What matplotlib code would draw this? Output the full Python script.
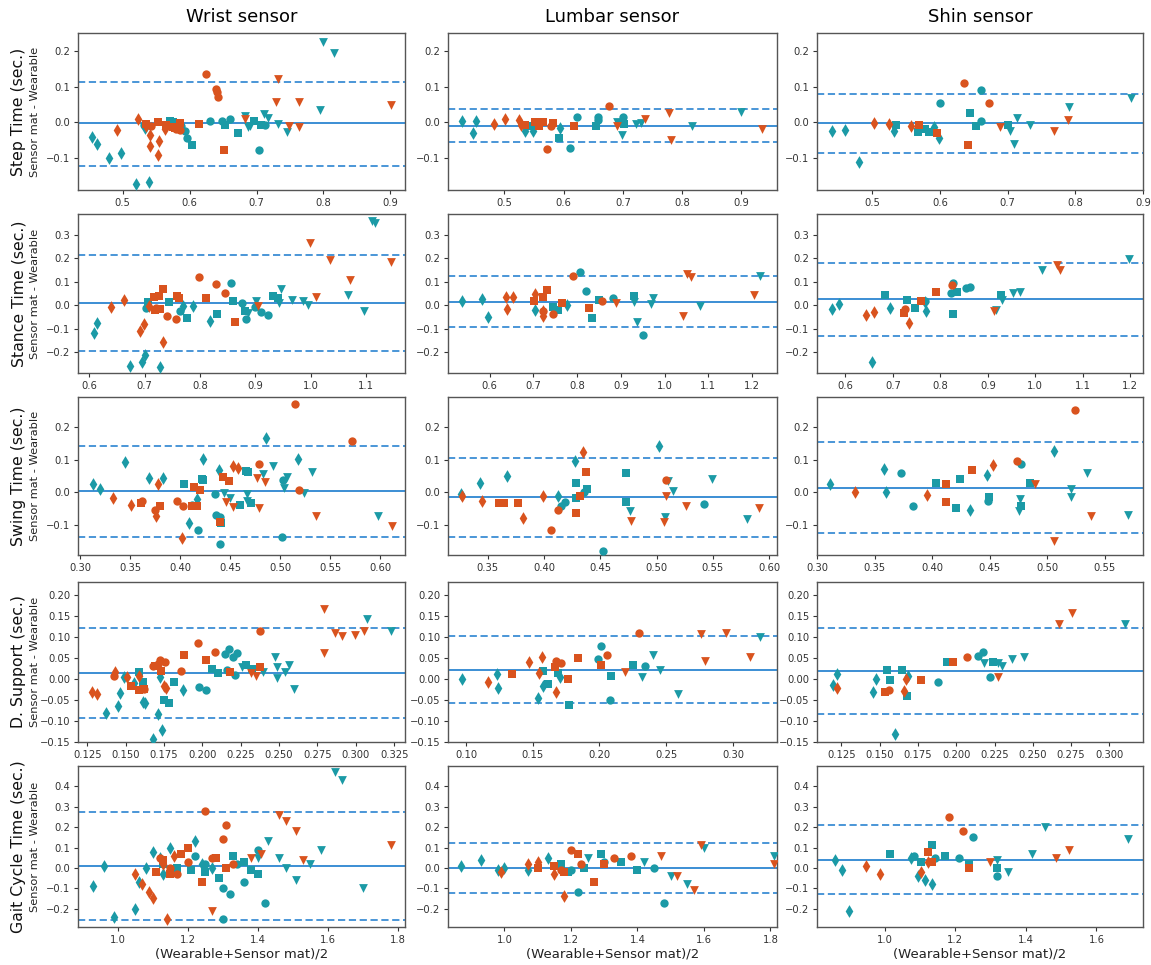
import matplotlib.pyplot as plt

# kinds: lowercase = teal, uppercase = orange; d diamond, o circle, s square, v triangle
col_titles = ['Wrist sensor', 'Lumbar sensor', 'Shin sensor']
row_titles = ['Step Time (sec.)', 'Stance Time (sec.)', 'Swing Time (sec.)',
              'D. Support (sec.)', 'Gait Cycle Time (sec.)']
xlabel = '(Wearable+Sensor mat)/2'

# ---------------- Step time ----------------
step_wrist_x = [0.454, 0.461, 0.480, 0.4975, 0.520, 0.5385, 0.5335,
                0.4915, 0.523, 0.540, 0.540, 0.554, 0.553, 0.5625, 0.535,
                0.534, 0.5525, 0.565, 0.575, 0.585, 0.614, 0.651, 0.5775,
                0.5425, 0.585, 0.624, 0.639, 0.641, 0.6425, 0.580,
                0.6825, 0.7315, 0.729, 0.7635, 0.749, 0.7635, 0.901,
                0.571, 0.6035, 0.6535, 0.6725, 0.6965, 0.7065, 0.575,
                0.5875, 0.5925, 0.596, 0.630, 0.649, 0.660, 0.704, 0.7125, 0.5315,
                0.799, 0.8165, 0.795, 0.6825, 0.690, 0.711, 0.7165, 0.7325, 0.745, 0.6875]
step_wrist_y = [-0.041, -0.061, -0.100, -0.086, -0.174, -0.168, -0.016,
                -0.023, 0.010, -0.035, -0.066, -0.054, -0.091, -0.019, -0.011,
                -0.005, 0.000, -0.009, -0.013, -0.002, -0.005, -0.079, -0.016,
                -0.011, -0.023, 0.135, 0.094, 0.085, 0.070, -0.019,
                0.008, 0.120, 0.056, 0.056, -0.011, -0.013, 0.049,
                0.003, -0.063, -0.009, -0.030, 0.003, -0.009, 0.000,
                -0.011, -0.025, -0.044, 0.003, 0.003, 0.009, -0.079, -0.009, -0.009,
                0.225, 0.195, 0.033, 0.017, -0.011, 0.022, 0.012, -0.004, -0.028, -0.013]
step_wrist_k = 'd' * 7 + 'D' * 8 + 'S' * 8 + 'O' * 7 + 'V' * 7 + 's' * 7 + 'o' * 9 + 'v' * 10

step_lumbar_x = [0.4285, 0.4476, 0.452, 0.5355, 0.548, 0.5946,
                 0.482, 0.5017, 0.524, 0.528,
                 0.535, 0.551, 0.565, 0.582, 0.617, 0.559,
                 0.572, 0.579, 0.676,
                 0.690, 0.738, 0.778, 0.782, 0.934,
                 0.545, 0.593, 0.655, 0.702, 0.5535,
                 0.622, 0.610, 0.658, 0.700, 0.658,
                 0.690, 0.699, 0.7225, 0.731, 0.817, 0.899]
step_lumbar_y = [0.002, -0.031, 0.002, -0.024, -0.026, -0.015,
                 -0.005, 0.009, 0.005, -0.007,
                 -0.007, 0.000, 0.000, -0.003, -0.012, -0.012,
                 -0.075, -0.012, 0.046,
                 -0.012, 0.009, 0.025, -0.050, -0.019,
                 -0.012, -0.043, -0.010, -0.006, -0.007,
                 0.014, -0.073, 0.014, 0.014, 0.005,
                 0.000, -0.036, -0.006, -0.003, -0.012, 0.028]
step_lumbar_k = 'd' * 6 + 'D' * 4 + 'S' * 6 + 'O' * 3 + 'V' * 5 + 's' * 5 + 'o' * 5 + 'v' * 6

step_shin_x = [0.4396, 0.459, 0.480, 0.532, 0.5916, 0.599,
               0.5025, 0.525, 0.557,
               0.569, 0.5955, 0.641,
               0.6347, 0.672,
               0.688, 0.769, 0.7886,
               0.5346, 0.568, 0.583, 0.6436, 0.6535, 0.7005, 0.578,
               0.6005, 0.661, 0.661,
               0.703, 0.7094, 0.7144, 0.7327, 0.7906, 0.882]
step_shin_y = [-0.026, -0.021, -0.111, -0.026, -0.014, -0.045,
               -0.002, -0.005, -0.011,
               -0.009, -0.029, -0.064,
               0.110, 0.053,
               -0.013, -0.024, 0.006,
               -0.007, -0.028, -0.028, 0.027, -0.010, -0.007, -0.018,
               0.055, 0.089, 0.003,
               -0.026, -0.061, 0.012, -0.009, 0.043, 0.067]
step_shin_k = 'd' * 6 + 'D' * 3 + 'S' * 3 + 'O' * 2 + 'V' * 3 + 's' * 7 + 'o' * 3 + 'v' * 6

# ---------------- Stance time ----------------
stance_wrist_x = [0.6085, 0.6145, 0.6745, 0.695, 0.701, 0.7285, 0.787, 0.818, 0.769,
                  0.6397, 0.6625, 0.691, 0.6985, 0.734, 0.7075,
                  0.7176, 0.7254, 0.734, 0.7284, 0.758, 0.763, 0.811, 0.863, 0.719,
                  0.7992, 0.8285, 0.8453, 0.7404, 0.757, 0.720,
                  0.998, 1.034, 1.070, 1.145, 1.010, 0.904,
                  0.7065, 0.744, 0.776, 0.8315, 0.859, 0.881, 0.932, 0.941,
                  0.7033, 0.7644, 0.856, 0.875, 0.884, 0.8993, 0.9095, 0.922,
                  0.9454, 0.9664, 0.986, 0.995, 0.9005, 0.943, 1.067, 1.096, 1.111, 1.115, 0.887]
stance_wrist_y = [-0.119, -0.076, -0.259, -0.244, -0.213, -0.266, -0.004, -0.069, -0.004,
                  -0.009, 0.022, -0.112, -0.080, -0.158, -0.004,
                  0.034, 0.039, 0.070, -0.016, 0.039, 0.029, 0.032, -0.073, -0.019,
                  0.121, 0.089, 0.053, -0.047, -0.057, -0.011,
                  0.264, 0.193, 0.106, 0.185, 0.034, -0.004,
                  0.013, 0.013, -0.055, -0.036, 0.017, -0.026, 0.039, 0.032,
                  -0.011, -0.026, 0.096, 0.010, -0.059, -0.009, -0.029, -0.040,
                  0.068, 0.024, 0.020, 0.000, 0.020, 0.010, 0.042, -0.026, 0.362, 0.352, -0.033]
stance_wrist_k = 'd' * 9 + 'D' * 6 + 'S' * 9 + 'O' * 6 + 'V' * 6 + 's' * 8 + 'o' * 8 + 'v' * 11

stance_lumbar_x = [0.5364, 0.582, 0.597, 0.704, 0.778,
                   0.6376, 0.653, 0.639, 0.704, 0.723, 0.721,
                   0.702, 0.723, 0.732, 0.765, 0.828,
                   0.7457, 0.790, 0.856, 0.723,
                   0.890, 1.0516, 1.0615, 1.0425, 1.2038,
                   0.7457, 0.757, 0.833, 0.851, 0.930,
                   0.8065, 0.8195, 0.881, 0.951,
                   0.930, 0.936, 0.974, 0.970, 1.0805, 1.2175]
stance_lumbar_y = [0.019, 0.026, -0.050, -0.021, 0.000,
                   0.036, 0.033, -0.017, 0.047, -0.046, -0.024,
                   0.019, 0.033, 0.066, 0.011, -0.013,
                   -0.039, 0.126, 0.019, -0.024,
                   0.011, 0.133, 0.121, -0.046, 0.043,
                   -0.007, -0.021, -0.056, 0.021, 0.040,
                   0.140, 0.061, 0.030, -0.127,
                   0.014, -0.070, 0.030, 0.004, -0.003, 0.126]
stance_lumbar_k = 'd' * 5 + 'D' * 6 + 'S' * 5 + 'O' * 4 + 'V' * 5 + 's' * 5 + 'o' * 4 + 'v' * 6

stance_shin_x = [0.572, 0.586, 0.656, 0.693, 0.7705, 0.768,
                 0.644, 0.661, 0.733,
                 0.723, 0.760, 0.7916,
                 0.726, 0.8246,
                 0.912, 1.0456, 1.0526,
                 0.684, 0.730, 0.746, 0.826, 0.834, 0.928,
                 0.8267, 0.8225, 0.8547, 0.8618, 0.767,
                 0.917, 0.930, 0.952, 0.967, 1.014, 1.1965]
stance_shin_y = [-0.017, 0.004, -0.241, -0.010, -0.025, 0.014,
                 -0.042, -0.029, -0.075,
                 -0.032, 0.016, 0.058,
                 -0.017, 0.087,
                 -0.025, 0.170, 0.149,
                 0.043, 0.023, -0.010, -0.039, 0.058, 0.043,
                 0.094, 0.052, 0.074, 0.076, 0.019,
                 -0.020, 0.023, 0.052, 0.055, 0.149, 0.199]
stance_shin_k = 'd' * 6 + 'D' * 3 + 'S' * 3 + 'O' * 2 + 'V' * 3 + 's' * 6 + 'o' * 5 + 'v' * 6

# ---------------- Swing time ----------------
swing_wrist_x = [0.3133, 0.320, 0.345, 0.369, 0.3827, 0.409, 0.4167, 0.4227, 0.439, 0.486, 0.5177,
                 0.3327, 0.3507, 0.3783, 0.3757, 0.4017, 0.4533, 0.4577,
                 0.3607, 0.380, 0.4143, 0.4167, 0.420, 0.4427, 0.449, 0.440, 0.4117,
                 0.3973, 0.4033, 0.3617, 0.375, 0.479, 0.515, 0.5717, 0.519,
                 0.446, 0.4527, 0.4773, 0.485, 0.4793, 0.536, 0.6117,
                 0.404, 0.4217, 0.4233, 0.441, 0.460, 0.466, 0.4683, 0.4707,
                 0.4117, 0.4183, 0.435, 0.436, 0.440, 0.440, 0.5017, 0.5033,
                 0.4443, 0.450, 0.4673, 0.4827, 0.4927, 0.5067, 0.504, 0.5317, 0.524, 0.5983, 0.4667]
swing_wrist_y = [0.025, 0.011, 0.094, 0.045, 0.045, -0.093, -0.019, 0.102, 0.069, 0.165, 0.102,
                 -0.017, -0.037, 0.025, -0.071, -0.138, 0.081, 0.074,
                 -0.032, -0.040, 0.018, -0.042, 0.008, 0.048, 0.035, -0.090, -0.040,
                 -0.027, -0.040, -0.027, -0.053, 0.087, 0.268, 0.155, 0.006,
                 -0.030, -0.045, 0.045, 0.031, -0.047, -0.073, -0.103,
                 0.026, 0.040, 0.038, -0.093, -0.039, 0.066, 0.061, -0.032,
                 -0.037, -0.113, -0.004, -0.068, -0.075, -0.156, -0.135, 0.038,
                 -0.002, -0.017, -0.005, 0.057, 0.079, 0.048, 0.013, 0.061, -0.002, -0.073, -0.027]
swing_wrist_k = 'd' * 11 + 'D' * 7 + 'S' * 9 + 'O' * 8 + 'V' * 7 + 's' * 8 + 'o' * 8 + 'v' * 11

swing_lumbar_x = [0.3263, 0.3432, 0.3669, 0.4122, 0.4276, 0.502,
                  0.3272, 0.3447, 0.3811, 0.3989, 0.4344,
                  0.3595, 0.3639, 0.3767, 0.4279, 0.4321, 0.4374, 0.3619,
                  0.4122, 0.4063, 0.5079,
                  0.4768, 0.5061, 0.5085, 0.5263, 0.5909,
                  0.4285, 0.4279, 0.438, 0.473, 0.473,
                  0.4152, 0.4187, 0.435, 0.4522, 0.5417,
                  0.4759, 0.510, 0.5076, 0.5144, 0.5494, 0.5802]
swing_lumbar_y = [-0.005, 0.030, 0.051, -0.010, 0.096, 0.141,
                  -0.010, -0.025, -0.078, -0.012, 0.123,
                  -0.032, -0.032, -0.032, -0.061, -0.012, 0.063, -0.032,
                  -0.053, -0.113, 0.038,
                  -0.088, -0.091, -0.010, -0.040, -0.047,
                  0.030, -0.017, 0.012, -0.030, 0.058,
                  -0.040, -0.030, 0.000, -0.177, -0.035,
                  -0.056, 0.035, -0.076, 0.005, 0.040, -0.081]
swing_lumbar_k = 'd' * 6 + 'D' * 5 + 'S' * 7 + 'O' * 3 + 'V' * 5 + 's' * 5 + 'o' * 5 + 'v' * 6

swing_shin_x = [0.3117, 0.3581, 0.3596, 0.4326, 0.448, 0.5057,
                0.3332, 0.3955, 0.4529,
                0.4117, 0.4123, 0.4346,
                0.4738, 0.5239,
                0.4891, 0.5057, 0.5378,
                0.4036, 0.4204, 0.4239, 0.4494, 0.4775, 0.4848,
                0.3833, 0.3726, 0.4486, 0.477,
                0.4761, 0.4755, 0.5201, 0.5201, 0.5346, 0.5697]
swing_shin_y = [0.027, 0.070, 0.002, -0.052, 0.053, 0.127,
                0.000, -0.007, 0.083,
                -0.030, 0.025, 0.067,
                0.097, 0.250,
                0.025, -0.147, -0.070,
                0.030, -0.048, 0.040, -0.013, -0.040, 0.030,
                -0.040, 0.060, -0.027, 0.087,
                -0.020, -0.057, 0.010, -0.015, 0.060, -0.068]
swing_shin_k = 'd' * 6 + 'D' * 3 + 'S' * 3 + 'O' * 2 + 'V' * 3 + 's' * 6 + 'o' * 4 + 'v' * 6

# ---------------- Double support ----------------
dsup_wrist_x = [0.1280, 0.1317, 0.1432, 0.1510, 0.1586, 0.1749, 0.1760,
                0.1537, 0.1587, 0.1689, 0.1733, 0.1880, 0.2025, 0.2180, 0.2373, 0.1617,
                0.1425, 0.1619, 0.1711, 0.1727, 0.1755, 0.1864, 0.1973, 0.2081, 0.2375, 0.1680,
                0.2317, 0.2350, 0.2794, 0.2794, 0.2866, 0.2910, 0.2993, 0.3051,
                0.1370, 0.1448, 0.1462, 0.1491, 0.1557, 0.1615, 0.1626, 0.1681, 0.1709, 0.1737, 0.1724, 0.1872,
                0.1589, 0.1615, 0.1748, 0.1785, 0.1813, 0.2063, 0.2100, 0.2286, 0.2325,
                0.1977, 0.2021, 0.2145, 0.2173, 0.2200, 0.2228, 0.2161, 0.2215,
                0.2259, 0.2395, 0.2471, 0.2486, 0.2486, 0.2536, 0.2565, 0.2595, 0.3070, 0.3227]
dsup_wrist_y = [-0.031, -0.036, 0.018, 0.004, 0.008, -0.016, -0.020,
                -0.016, -0.027, 0.032, 0.020, 0.057, 0.046, 0.016, 0.028, -0.024,
                0.008, -0.024, 0.036, 0.046, 0.040, 0.020, 0.087, 0.066, 0.115, 0.032,
                0.015, 0.008, 0.168, 0.063, 0.111, 0.103, 0.105, 0.116,
                -0.081, -0.063, -0.034, 0.004, -0.008, -0.055, -0.058, -0.143, -0.083, -0.121, 0.004, -0.027,
                0.018, -0.006, -0.049, -0.057, -0.006, 0.024, 0.015, 0.034, 0.024,
                -0.018, -0.027, 0.061, 0.073, 0.053, 0.063, 0.022, 0.010,
                0.028, 0.018, 0.054, 0.030, 0.002, 0.018, 0.034, -0.023, 0.144, 0.116]
dsup_wrist_k = 'D' * 7 + 'S' * 9 + 'O' * 10 + 'V' * 8 + 'd' * 12 + 's' * 9 + 'o' * 8 + 'v' * 10

dsup_lumbar_x = [0.0973, 0.1230, 0.1242, 0.1536, 0.1574, 0.1703,
                 0.1162, 0.1474, 0.1566, 0.1549, 0.1673,
                 0.1347, 0.1666, 0.1766, 0.1840, 0.2015,
                 0.1673, 0.1708, 0.2057, 0.2297,
                 0.2190, 0.2758, 0.2788, 0.2950, 0.3130,
                 0.1579, 0.1616, 0.1691, 0.1773, 0.2090, 0.2252,
                 0.1990, 0.2015, 0.2077, 0.2339,
                 0.2322, 0.2401, 0.2456, 0.2589, 0.3200]
dsup_lumbar_y = [0.000, 0.012, -0.022, -0.045, -0.016, 0.004,
                 -0.006, 0.040, 0.053, 0.015, -0.031,
                 0.012, 0.030, 0.000, 0.050, 0.034,
                 0.043, 0.039, 0.057, 0.111,
                 0.018, 0.108, 0.043, 0.111, 0.053,
                 0.020, -0.012, 0.014, -0.061, 0.008, 0.034,
                 0.047, 0.079, -0.049, 0.031,
                 0.004, 0.057, 0.023, -0.035, 0.101]
dsup_lumbar_k = 'd' * 6 + 'D' * 5 + 'S' * 5 + 'O' * 4 + 'V' * 5 + 's' * 6 + 'o' * 4 + 'v' * 5

dsup_shin_x = [0.1192, 0.1218, 0.1454, 0.1475, 0.1600, 0.1684,
               0.1218, 0.1658, 0.1669,
               0.1536, 0.1770, 0.1980,
               0.1561, 0.2072,
               0.2270, 0.2672, 0.2753,
               0.1550, 0.1566, 0.1643, 0.1679, 0.1937, 0.2238,
               0.1883, 0.2145, 0.2173, 0.2220,
               0.2180, 0.2270, 0.2302, 0.2367, 0.2442, 0.3103]
dsup_shin_y = [-0.014, 0.012, -0.030, 0.000, -0.132, 0.008,
               -0.022, -0.028, 0.000,
               -0.031, -0.002, 0.040,
               -0.026, 0.054,
               0.006, 0.131, 0.158,
               0.023, -0.002, 0.023, -0.040, 0.042, 0.040,
               -0.006, 0.055, 0.066, 0.004,
               0.038, 0.039, 0.031, 0.047, 0.053, 0.131]
dsup_shin_k = 'd' * 6 + 'D' * 3 + 'S' * 3 + 'O' * 2 + 'V' * 3 + 's' * 6 + 'o' * 4 + 'v' * 6

# ---------------- Gait cycle time ----------------
gait_wrist_x = [0.93, 0.96, 0.99, 1.05, 1.06, 1.08, 1.10, 1.12, 1.13, 1.15, 1.22, 1.24, 1.27,
                1.05, 1.07, 1.09, 1.10, 1.14, 1.13, 1.16,
                1.11, 1.13, 1.15, 1.18, 1.20, 1.24, 1.28, 1.31,
                1.12, 1.15, 1.17, 1.20, 1.25, 1.27, 1.30, 1.31, 1.33,
                1.27, 1.38, 1.41, 1.46, 1.48, 1.51, 1.53, 1.78,
                1.13, 1.17, 1.21, 1.25, 1.29, 1.33, 1.36, 1.38, 1.40,
                1.22, 1.25, 1.30, 1.32, 1.34, 1.36, 1.40, 1.42, 1.30,
                1.40, 1.43, 1.46, 1.48, 1.51, 1.55, 1.58, 1.62, 1.64, 1.70]
gait_wrist_y = [-0.09, 0.01, -0.24, -0.20, -0.07, 0.00, 0.08, 0.05, -0.03, 0.10, 0.13, 0.02, 0.00,
                -0.03, -0.08, -0.12, -0.15, -0.25, 0.02, 0.06,
                -0.02, 0.04, -0.03, 0.07, 0.10, -0.07, 0.05, 0.00,
                0.05, 0.00, -0.03, 0.03, 0.28, 0.05, 0.14, 0.21, 0.02,
                -0.21, 0.05, 0.07, 0.26, 0.23, 0.18, 0.04, 0.11,
                0.02, 0.00, -0.01, -0.02, -0.05, 0.06, 0.03, -0.01, -0.03,
                0.06, 0.02, -0.10, -0.13, 0.02, -0.07, 0.09, -0.17, -0.25,
                0.05, 0.13, 0.05, 0.00, -0.06, 0.02, 0.09, 0.47, 0.43, -0.10]
gait_wrist_k = 'd' * 13 + 'D' * 7 + 'S' * 8 + 'O' * 9 + 'V' * 8 + 's' * 9 + 'o' * 9 + 'v' * 10

gait_lumbar_x = [0.87, 0.93, 0.98, 1.00, 1.07, 1.13,
                 0.99, 1.07, 1.10, 1.15, 1.18,
                 1.10, 1.15, 1.18, 1.22, 1.27, 1.30,
                 1.17, 1.20, 1.23, 1.33, 1.38,
                 1.47, 1.52, 1.57, 1.59, 1.81,
                 1.17, 1.19, 1.24, 1.29, 1.35, 1.40,
                 1.20, 1.22, 1.30, 1.45, 1.48,
                 1.25, 1.42, 1.50, 1.55, 1.60, 1.81]
gait_lumbar_y = [0.01, 0.04, -0.01, 0.00, -0.01, 0.05,
                 -0.02, 0.02, 0.03, -0.03, -0.14,
                 0.00, 0.01, -0.02, 0.07, -0.07, 0.02,
                 -0.01, 0.09, 0.02, 0.05, 0.06,
                 0.06, -0.04, -0.11, 0.11, 0.02,
                 0.02, -0.02, 0.00, 0.07, 0.03, -0.01,
                 -0.01, -0.12, 0.03, 0.00, -0.17,
                 0.05, 0.03, -0.04, -0.08, 0.10, 0.06]
gait_lumbar_k = 'd' * 6 + 'D' * 5 + 'S' * 6 + 'O' * 5 + 'V' * 5 + 's' * 6 + 'o' * 5 + 'v' * 6

gait_shin_x = [0.860, 0.880, 0.899, 1.075, 1.094, 1.114, 1.133,
               0.947, 0.986, 1.104, 1.123,
               1.123, 1.133, 1.240,
               1.182, 1.221,
               1.299, 1.484, 1.523,
               1.016, 1.104, 1.133, 1.172, 1.240, 1.318,
               1.084, 1.143, 1.211, 1.250, 1.318,
               1.318, 1.348, 1.416, 1.455, 1.690]
gait_shin_y = [0.04, -0.01, -0.21, 0.05, -0.04, -0.06, -0.08,
               0.01, -0.03, -0.02, 0.03,
               0.08, 0.03, 0.00,
               0.25, 0.18,
               0.03, 0.05, 0.09,
               0.07, 0.03, 0.11, 0.06, 0.02, 0.00,
               0.06, 0.05, 0.05, 0.15, -0.04,
               0.04, -0.02, 0.07, 0.20, 0.14]
gait_shin_k = 'd' * 7 + 'D' * 4 + 'S' * 3 + 'O' * 2 + 'V' * 3 + 's' * 6 + 'o' * 5 + 'v' * 5

# bias and limits of agreement: (mean, upper, lower)
lines_step = [(-0.003, 0.113, -0.122), (-0.010, 0.036, -0.055), (-0.003, 0.080, -0.086)]
lines_stance = [(0.010, 0.213, -0.195), (0.015, 0.125, -0.095), (0.025, 0.180, -0.130)]
lines_swing = [(0.003, 0.140, -0.135), (-0.015, 0.105, -0.135), (0.014, 0.153, -0.124)]
lines_dsup = [(0.015, 0.122, -0.092), (0.023, 0.102, -0.056), (0.019, 0.123, -0.084)]
lines_gait = [(0.010, 0.275, -0.255), (0.000, 0.120, -0.125), (0.040, 0.210, -0.130)]

xlims = [[(0.433, 0.922), (0.405, 0.960), (0.418, 0.900)],
         [(0.580, 1.170), (0.505, 1.257), (0.540, 1.227)],
         [(0.298, 0.625), (0.3145, 0.607), (0.300, 0.583)],
         [(0.119, 0.332), (0.0865, 0.333), (0.109, 0.322)],
         [(0.886, 1.820), (0.830, 1.820), (0.808, 1.732)]]
ylims = [(-0.19, 0.25), (-0.29, 0.39), (-0.19, 0.29), (-0.15, 0.232), (-0.29, 0.50)]
yticks = [[-0.1, 0.0, 0.1, 0.2], [-0.2, -0.1, 0.0, 0.1, 0.2, 0.3], [-0.1, 0.0, 0.1, 0.2],
          [-0.15, -0.10, -0.05, 0.0, 0.05, 0.10, 0.15, 0.20],
          [-0.2, -0.1, 0.0, 0.1, 0.2, 0.3, 0.4]]
ytick_fmt = ['%.1f', '%.1f', '%.1f', '%.2f', '%.1f']

panels = [
    [(step_wrist_x, step_wrist_y, step_wrist_k), (step_lumbar_x, step_lumbar_y, step_lumbar_k),
     (step_shin_x, step_shin_y, step_shin_k)],
    [(stance_wrist_x, stance_wrist_y, stance_wrist_k), (stance_lumbar_x, stance_lumbar_y, stance_lumbar_k),
     (stance_shin_x, stance_shin_y, stance_shin_k)],
    [(swing_wrist_x, swing_wrist_y, swing_wrist_k), (swing_lumbar_x, swing_lumbar_y, swing_lumbar_k),
     (swing_shin_x, swing_shin_y, swing_shin_k)],
    [(dsup_wrist_x, dsup_wrist_y, dsup_wrist_k), (dsup_lumbar_x, dsup_lumbar_y, dsup_lumbar_k),
     (dsup_shin_x, dsup_shin_y, dsup_shin_k)],
    [(gait_wrist_x, gait_wrist_y, gait_wrist_k), (gait_lumbar_x, gait_lumbar_y, gait_lumbar_k),
     (gait_shin_x, gait_shin_y, gait_shin_k)],
]
row_lines = [lines_step, lines_stance, lines_swing, lines_dsup, lines_gait]

orange = '#d9531e'
teal = '#1b9aa6'
blue = '#3b8ed4'
markers = {'d': 'd', 'o': 'o', 's': 's', 'v': 'v'}
sizes = {'d': 42, 'o': 36, 's': 34, 'v': 40}

W, H = 1151, 965
fig = plt.figure(figsize=(W / 100, H / 100), dpi=100)

col_px = [(78, 327), (448, 329), (817, 326)]
row_px = [(33, 157), (214, 159), (397, 158), (582, 160), (766, 161)]

for r in range(5):
    top, h = row_px[r]
    for c in range(3):
        left, w = col_px[c]
        ax = fig.add_axes([left / W, 1 - (top + h) / H, w / W, h / H])
        xs, ys, ks = panels[r][c]
        for kind in 'dosvDOSV':
            px = [x for x, k in zip(xs, ks) if k == kind]
            py = [y for y, k in zip(ys, ks) if k == kind]
            if not px:
                continue
            m = kind.lower()
            ax.scatter(px, py, marker=markers[m], s=sizes[m],
                       color=orange if kind.isupper() else teal, linewidths=0, zorder=3)
        mean, up, low = row_lines[r][c]
        ax.axhline(mean, color=blue, lw=1.4, zorder=2)
        ax.axhline(up, color=blue, lw=1.3, ls=(0, (4, 2)), zorder=2)
        ax.axhline(low, color=blue, lw=1.3, ls=(0, (4, 2)), zorder=2)
        ax.set_xlim(xlims[r][c])
        ax.set_ylim(ylims[r])
        ax.set_yticks(yticks[r])
        ax.set_yticklabels([(ytick_fmt[r] % t).replace('-', '\u2212') for t in yticks[r]])
        ax.tick_params(labelsize=7.2, colors='#333333', length=3, width=0.8, pad=2.5)
        for s in ax.spines.values():
            s.set_color('#555555')
            s.set_linewidth(1.0)
        if r == 4:
            ax.set_xlabel(xlabel, fontsize=9.5, color='#222222', labelpad=2)
        if r == 0:
            ax.set_title(col_titles[c], fontsize=13, pad=8)
        if c == 0:
            yc = 1 - (top + h / 2) / H
            fig.text(19 / W, yc, row_titles[r], rotation=90, fontsize=11.3,
                     ha='center', va='center', color='#111111')
            fig.text(35.5 / W, yc, 'Sensor mat - Wearable', rotation=90, fontsize=8.2,
                     ha='center', va='center', color='#222222')

fig.savefig('out.png', dpi=100)
